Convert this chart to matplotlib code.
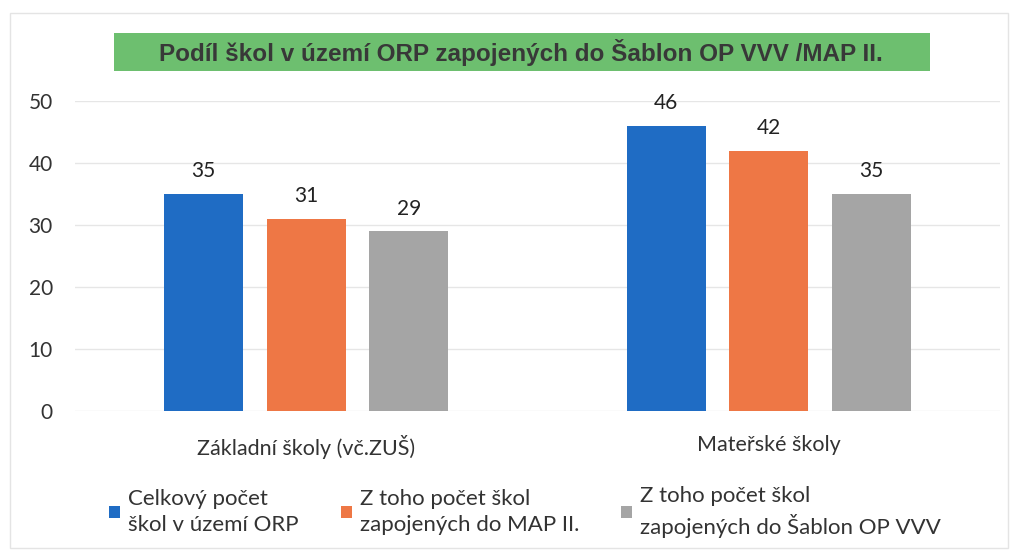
import numpy as np
import matplotlib.pyplot as plt
from matplotlib.patches import Rectangle

# data
categories = ['Základní školy (vč.ZUŠ)', 'Mateřské školy']
series_names = ['Celkový počet\nškol v území ORP',
                'Z toho počet škol\nzapojených do MAP II.',
                'Z toho počet škol\nzapojených do Šablon OP VVV']
celkem = [35, 46]
map_ii = [31, 42]
sablony = [29, 35]
colors = ['#1f6cc4', '#ee7745', '#a5a5a5']
title = 'Podíl škol v území ORP zapojených do Šablon OP VVV /MAP II.'

plt.rcParams['font.family'] = ['Lato', 'DejaVu Sans']

fig = plt.figure(figsize=(10.18, 5.56), dpi=100)
W, H = 1018, 556
ax = fig.add_axes([75 / W, 1 - 411 / H, (1000 - 75) / W, (411 - 101) / H])

x = np.arange(len(categories))
step = 0.222
width = 0.171
for i, (vals, col) in enumerate(zip([celkem, map_ii, sablony], colors)):
    pos = x + (i - 1) * step
    bars = ax.bar(pos, vals, width, color=col, label=series_names[i], zorder=3)
    for b, v in zip(bars, vals):
        ax.annotate(str(v), (b.get_x() + b.get_width() / 2, v), xytext=(0, 12),
                    textcoords='offset points', ha='center', va='baseline',
                    fontsize=15, color='#222222')

ax.set_xlim(-0.5, 1.5)
ax.set_ylim(0, 50)
ax.set_yticks(range(0, 51, 10))
ax.set_xticks(x)
ax.set_xticklabels(categories, fontsize=15.5)
ax.grid(axis='y', color='#e6e6e6', linewidth=1, zorder=0)
for s in ax.spines.values():
    s.set_visible(False)
ax.tick_params(axis='both', length=0, colors='#333333')
ax.tick_params(axis='y', pad=16, labelsize=15)
ax.tick_params(axis='x', pad=17)

# green title box
fig.patches.append(Rectangle((114 / W, 1 - 71 / H), (930 - 114) / W, 38 / H,
                             transform=fig.transFigure, facecolor='#6dbf6f',
                             edgecolor='none'))
fig.text(521 / W, 1 - 52 / H, title, ha='center', va='center', fontsize=17.5,
         fontweight='bold', color='#383838',
         family=['Liberation Sans', 'DejaVu Sans'])

# light chart border
fig.patches.append(Rectangle((10 / W, 8 / H), (1008 - 10) / W, (543 - 8) / H,
                             transform=fig.transFigure, facecolor='none',
                             edgecolor='#e4e4e4', linewidth=1))

leg = fig.legend(loc='center', bbox_to_anchor=(525 / W, 1 - 512 / H), ncol=3,
                 frameon=False, fontsize=16, handlelength=0.5, handleheight=0.5,
                 handletextpad=0.35, columnspacing=1.9, labelcolor='#333333')
for t in leg.get_texts():
    t.set_linespacing(1.4)

fig.savefig('out.png', dpi=100)
